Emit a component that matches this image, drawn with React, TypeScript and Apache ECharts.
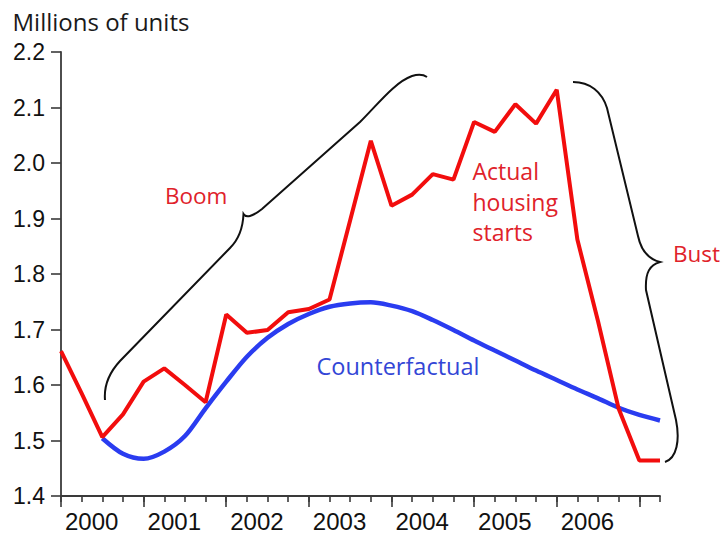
import React, { useEffect, useRef } from "react";
import * as echarts from "echarts";

// Quarterly data, 2000 Q1 .. 2007 Q2 (index = quarter number)
const years = ["2000", "2001", "2002", "2003", "2004", "2005", "2006"];
const actualStarts = [
  1.661, 1.585, 1.506, 1.547, 1.606, 1.63, 1.6, 1.569, 1.727, 1.694, 1.699,
  1.731, 1.737, 1.754, 1.897, 2.04, 1.923, 1.943, 1.98, 1.97, 2.074, 2.056,
  2.106, 2.071, 2.132, 1.862, 1.715, 1.557, 1.464, 1.464,
];
const counterfactual: (number | null)[] = [
  null, null, 1.504, 1.476, 1.467, 1.48, 1.508, 1.558, 1.606, 1.651, 1.685,
  1.71, 1.728, 1.741, 1.747, 1.749, 1.743, 1.733, 1.717, 1.699, 1.68, 1.662,
  1.644, 1.626, 1.609, 1.592, 1.576, 1.559, 1.546, 1.536,
];
const yMin = 1.4;
const yMax = 2.2;
const yStep = 0.1;

const BOOM_BRACE =
  "M105,400 C104,388 108,374 120,361 L230,248 C240,238 243,226 243.5,214 C246,218 252,217 262,209 L360,122 C378,104 395,82 412,76 C419,74 424,75 427,77";
const BUST_BRACE =
  "M573,82 C590,82 602,92 607,108 L638,236 C641,250 648,259 660,262 C650,265 645,272 646,290 L676,420 C680,440 677,458 665,462";

export default function App() {
  const ref = useRef<HTMLDivElement>(null);

  useEffect(() => {
    if (!ref.current) return;
    echarts.graphic.registerShape(
      "boomBrace",
      echarts.graphic.extendPath(BOOM_BRACE, {})
    );
    echarts.graphic.registerShape(
      "bustBrace",
      echarts.graphic.extendPath(BUST_BRACE, {})
    );
    const chart = echarts.init(ref.current, undefined, { renderer: "svg" });
    const n = actualStarts.length;
    const majorTicks: number[] = [];
    for (let i = 0; i < n; i += 4) majorTicks.push(i);
    const labelTicks = years.map((_, i) => i * 4);
    const textFont = "'Open Sans', 'Noto Sans', sans-serif";
    const axisColor = "#3a3a3a";

    chart.setOption({
      animation: false,
      backgroundColor: "#ffffff",
      grid: { left: 61, right: 62, top: 52, bottom: 36, containLabel: false },
      xAxis: [
        {
          type: "value",
          min: 0,
          max: n - 1,
          interval: 1,
          position: "bottom",
          axisLine: { show: true, lineStyle: { color: axisColor, width: 1.8 } },
          axisTick: { show: true, length: 6, lineStyle: { color: axisColor, width: 1.6 } },
          axisLabel: { show: false },
          splitLine: { show: false },
        },
        {
          type: "value",
          min: 0,
          max: n - 1,
          position: "bottom",
          axisLine: { show: false },
          axisTick: {
            show: true,
            length: 11,
            customValues: majorTicks,
            lineStyle: { color: axisColor, width: 1.6 },
          },
          axisLabel: {
            show: true,
            customValues: labelTicks,
            formatter: (v: number) => years[Math.round(v / 4)] ?? "",
            align: "left",
            padding: [0, 0, 0, 4],
            margin: 13,
            fontSize: 24,
            color: "#111",
            fontFamily: "'Liberation Sans', Arial, sans-serif",
          },
          splitLine: { show: false },
        },
      ],
      yAxis: {
        type: "value",
        min: yMin,
        max: yMax,
        interval: yStep,
        axisLine: { show: true, lineStyle: { color: axisColor, width: 1.8 } },
        axisTick: { show: true, length: 10, lineStyle: { color: axisColor, width: 1.6 } },
        axisLabel: {
          formatter: (v: number) => v.toFixed(1),
          margin: 16,
          fontSize: 23,
          color: "#111",
          fontFamily: "'Liberation Sans', Arial, sans-serif",
        },
        splitLine: { show: false },
      },
      series: [
        {
          name: "Counterfactual",
          type: "line",
          xAxisIndex: 0,
          data: counterfactual.map((v, i) => [i, v]),
          smooth: 0.3,
          showSymbol: false,
          connectNulls: false,
          lineStyle: { color: "#2a3cf0", width: 4.5 },
          z: 2,
        },
        {
          name: "Actual housing starts",
          type: "line",
          xAxisIndex: 0,
          data: actualStarts.map((v, i) => [i, v]),
          showSymbol: false,
          lineStyle: { color: "#f20d0d", width: 4 },
          z: 3,
        },
      ],
      graphic: [
        {
          type: "text",
          x: 12.5,
          y: 21.5,
          style: {
            text: "Millions of units",
            font: `24px ${textFont}`,
            fill: "#1a1a1a",
            verticalAlign: "middle",
          },
        },
        {
          type: "boomBrace",
          x: 0,
          y: 0,
          style: { stroke: "#111", lineWidth: 2, fill: "none" },
        },
        {
          type: "bustBrace",
          x: 0,
          y: 0,
          style: { stroke: "#111", lineWidth: 2, fill: "none" },
        },
        {
          type: "text",
          x: 165,
          y: 195,
          style: { text: "Boom", font: `22.5px ${textFont}`, fill: "#e0222a", verticalAlign: "middle" },
        },
        {
          type: "text",
          x: 472.5,
          y: 171,
          style: { text: "Actual", font: `23px ${textFont}`, fill: "#e0222a", verticalAlign: "middle" },
        },
        {
          type: "text",
          x: 472.5,
          y: 201.5,
          style: { text: "housing", font: `23px ${textFont}`, fill: "#e0222a", verticalAlign: "middle" },
        },
        {
          type: "text",
          x: 472.5,
          y: 231.5,
          style: { text: "starts", font: `23px ${textFont}`, fill: "#e0222a", verticalAlign: "middle" },
        },
        {
          type: "text",
          x: 316.5,
          y: 365.5,
          style: { text: "Counterfactual", font: `23.5px ${textFont}`, fill: "#3346d6", verticalAlign: "middle" },
        },
        {
          type: "text",
          x: 673,
          y: 253,
          style: { text: "Bust", font: `22.5px ${textFont}`, fill: "#e0222a", verticalAlign: "middle" },
        },
      ],
    });
    return () => chart.dispose();
  }, []);

  return (
    <div
      ref={ref}
      style={{ position: "fixed", left: 0, top: 0, width: 722, height: 533, background: "#fff" }}
    />
  );
}
